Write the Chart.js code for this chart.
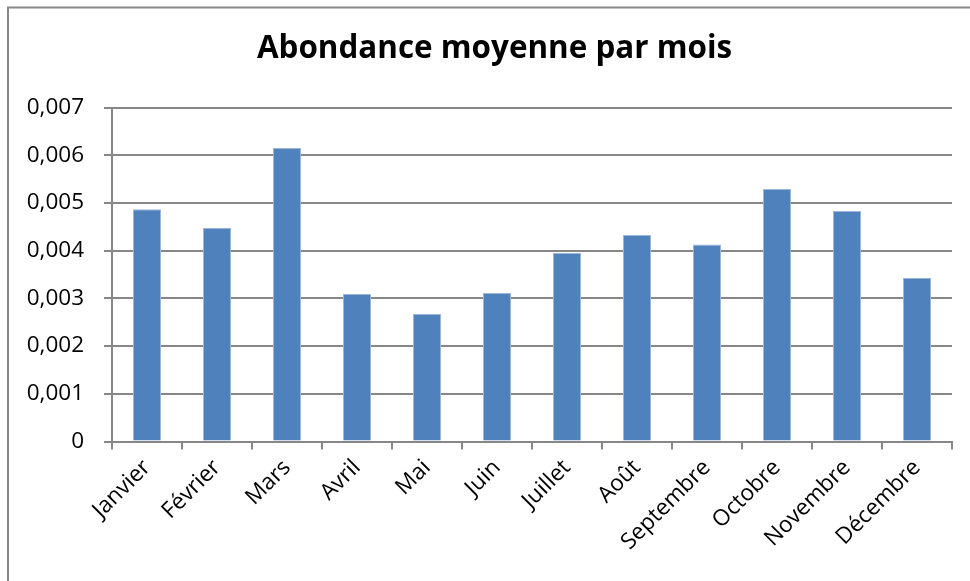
<!DOCTYPE html>
<html>
<head>
<meta charset="utf-8">
<script src="https://cdn.jsdelivr.net/npm/chart.js@4"></script>
<style>
  html, body { margin: 0; padding: 0; background: #fff; }
  #wrap { width: 970px; height: 581px; position: relative; }
</style>
</head>
<body>
<div id="wrap"><canvas id="moisChart" width="970" height="581"></canvas></div>
<script>
// data
const mois = ['Janvier', 'Février', 'Mars', 'Avril', 'Mai', 'Juin', 'Juillet', 'Août', 'Septembre', 'Octobre', 'Novembre', 'Décembre'];
const abondance = [0.00487, 0.00448, 0.00615, 0.00309, 0.00267, 0.00311, 0.00395, 0.00433, 0.00413, 0.00529, 0.00483, 0.00343];
const yTicks = [0, 0.001, 0.002, 0.003, 0.004, 0.005, 0.006, 0.007];
const titre = 'Abondance moyenne par mois';

const gris = '#878787';

// outer frame like the excel chart border (left + top only visible)
// and the title, centred like in excel (not over the chart area)
const cadre = {
  id: 'cadre',
  beforeDraw(chart) {
    const c = chart.ctx;
    c.save();
    c.strokeStyle = gris;
    c.lineWidth = 2;
    c.beginPath();
    c.moveTo(8, 600);
    c.lineTo(8, 7.5);
    c.lineTo(980, 7.5);
    c.stroke();

    c.fillStyle = '#000';
    c.font = 'bold 31.4px "Open Sans"';
    c.textAlign = 'center';
    c.textBaseline = 'middle';
    c.fillText(titre, 494.5, 48.8);
    c.restore();
  }
};

var ctx = document.getElementById('moisChart').getContext('2d');
var moisChart = new Chart(ctx, {
  type: 'bar',
  data: {
    labels: mois,
    datasets: [{
      data: abondance,
      backgroundColor: '#4f81bd',
      borderColor: '#9db7d9',
      borderWidth: 1,
      categoryPercentage: 1,
      barPercentage: 0.4
    }]
  },
  options: {
    responsive: false,
    animation: false,
    layout: { padding: { left: 0, right: 18, top: 107.5, bottom: 0 } },
    plugins: {
      legend: { display: false },
      tooltip: { enabled: false },
      title: { display: false }
    },
    scales: {
      x: {
        offset: true,
        grid: {
          offset: true,
          drawOnChartArea: false,
          drawTicks: true,
          tickLength: 8,
          color: gris,
          lineWidth: 2
        },
        border: { display: true, color: gris, width: 2 },
        ticks: {
          color: '#000',
          font: { family: 'Open Sans', size: 22.5 },
          minRotation: 45,
          maxRotation: 45,
          autoSkip: false,
          padding: 5
        },
        afterFit(scale) { scale.height = 139.5; }
      },
      y: {
        min: 0,
        max: 0.007,
        afterBuildTicks(scale) {
          scale.ticks = yTicks.map(v => ({ value: v }));
        },
        grid: {
          color: gris,
          lineWidth: 2,
          tickLength: 8
        },
        border: { display: true, color: gris, width: 2 },
        ticks: {
          color: '#000',
          font: { family: 'Open Sans', size: 22.5 },
          padding: 20,
          callback: v => v === 0 ? '0' : v.toFixed(3).replace('.', ',')
        },
        afterFit(scale) { scale.width = 112; }
      }
    }
  },
  plugins: [cadre]
});
</script>
</body>
</html>
